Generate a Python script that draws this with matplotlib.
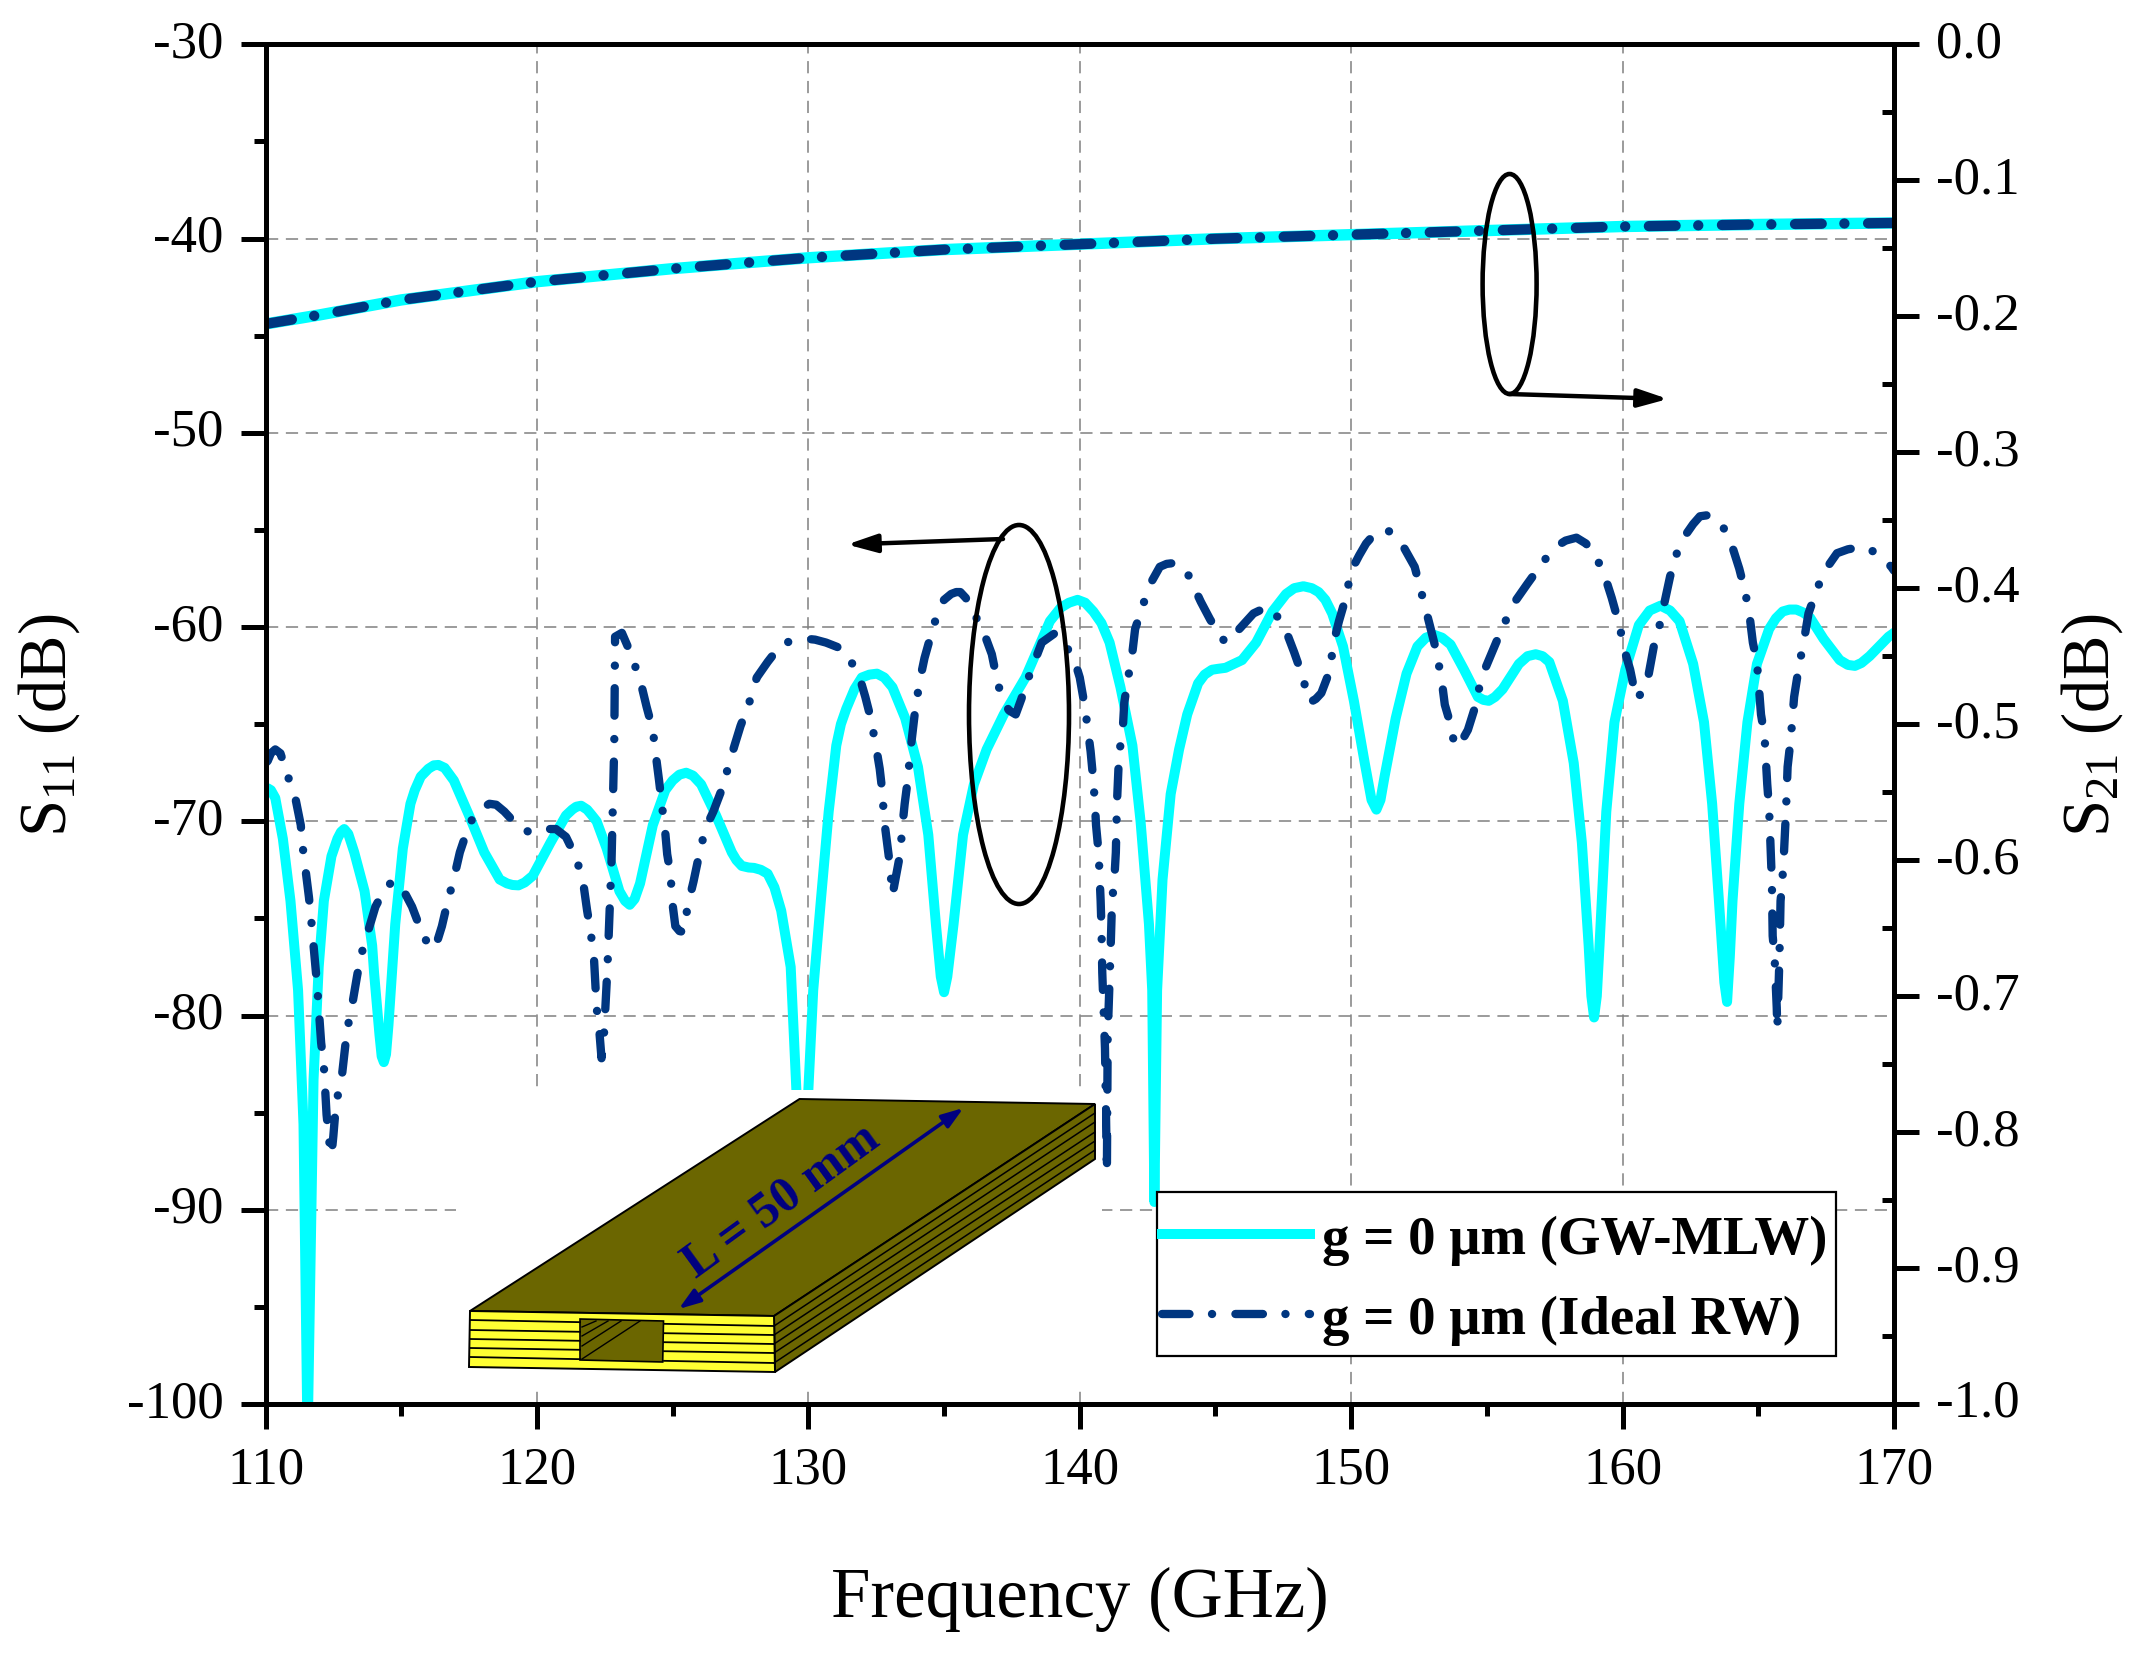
import numpy as np
import matplotlib
matplotlib.use("Agg")
import matplotlib.pyplot as plt
from matplotlib.patches import Ellipse, Polygon, Rectangle
from matplotlib.ticker import MultipleLocator
from matplotlib.transforms import ScaledTranslation

plt.rcParams['font.family'] = ['Liberation Serif', 'DejaVu Serif']
plt.rcParams['mathtext.fontset'] = 'custom'
plt.rcParams['mathtext.rm'] = 'Liberation Serif'
plt.rcParams['mathtext.default'] = 'rm'

W, H = 2141, 1665

# S11, GW-MLW
freq_gw = [110.0, 110.08, 110.36, 110.64, 110.92, 111.2, 111.4, 111.55, 111.77, 111.96, 112.15, 112.43, 112.9,
           113.27, 113.65, 113.93, 114.2, 114.36, 114.53, 114.78, 115.06, 115.34, 115.72, 116.37, 116.94, 117.5,
           118.06, 118.63, 119.32, 119.85, 120.5, 121.07, 121.63, 122.2, 122.57, 123.04, 123.42, 123.8, 124.27,
           124.73, 125.5, 126.05, 126.6, 127.18, 127.55, 128.0, 128.5, 129.0, 129.35, 129.56, 129.78, 130.0,
           130.18, 130.46, 130.75, 131.03, 131.4, 131.97, 132.53, 133.1, 133.57, 134.04, 134.42, 134.7, 135.0,
           135.35, 135.7, 136.1, 136.57, 137.2, 138.0, 138.9, 139.3, 139.92, 140.5, 141.1, 141.5, 141.94, 142.24,
           142.55, 142.67, 142.75, 142.85, 143.05, 143.35, 143.66, 143.96, 144.36, 144.87, 145.37, 145.98, 146.5,
           147.1, 147.6, 148.24, 148.8, 149.3, 149.7, 150.1, 150.5, 150.93, 151.23, 151.64, 152.04, 152.44, 153.05,
           153.66, 154.16, 154.67, 155.07, 155.58, 156.18, 156.8, 157.3, 157.8, 158.2, 158.5, 158.75, 158.95,
           159.15, 159.4, 159.7, 160.1, 160.6, 161.4, 162.1, 162.6, 163.0, 163.3, 163.55, 163.85, 164.05, 164.3,
           164.6, 164.95, 165.4, 165.9, 166.4, 166.9, 167.4, 168.0, 168.56, 169.1, 169.8, 170.0]
s11_gw = [-68.4, -68.3, -68.8, -70.9, -74.1, -78.7, -85.6, -102.0, -83.3, -77.5, -74.1, -71.8, -70.4,
          -71.6, -73.6, -76.4, -81.0, -82.4, -80.5, -75.3, -71.4, -69.1, -67.7, -67.1, -67.9, -69.7,
          -71.6, -73.0, -73.3, -72.8, -71.1, -69.7, -69.2, -70.0, -71.4, -73.6, -74.3, -73.2, -70.2,
          -68.4, -67.5, -68.1, -69.7, -71.6, -72.3, -72.4, -72.7, -74.6, -77.5, -83.85, -88.0, -83.85,
          -78.7, -74.1, -69.5, -66.1, -64.2, -62.6, -62.4, -63.1, -64.7, -67.2, -70.7, -75.3, -78.8,
          -75.3, -70.7, -68.1, -66.3, -64.5, -62.6, -59.7, -59.0, -58.6, -59.2, -60.8, -63.1, -66.1, -70.0,
          -75.3, -78.7, -89.6, -78.7, -73.0, -68.6, -66.3, -64.5, -62.9, -62.2, -62.1, -61.7, -60.8,
          -59.2, -58.3, -57.9, -58.2, -59.3, -61.0, -63.8, -67.0, -69.4, -67.7, -64.7, -62.4, -61.0, -60.4,
          -60.9, -62.2, -63.6, -63.8, -63.2, -61.9, -61.4, -61.8, -63.8, -67.0, -71.1, -76.4, -80.1,
          -76.4, -69.5, -64.9, -62.2, -59.9, -58.9, -59.7, -61.9, -64.9, -69.1, -74.1, -79.3, -74.1, -69.1,
          -64.9, -61.9, -60.1, -59.2, -59.1, -59.5, -60.6, -61.7, -62.0, -61.5, -60.5, -60.3]
# more readings around the rounded peaks and dips
freq_gw_more = [110.2, 112.65, 112.78, 113.05, 114.0, 114.28, 114.44, 115.5, 116.0, 116.2, 116.6, 118.9, 119.1, 119.55,
                121.3, 121.45, 121.85, 122.0, 123.25, 123.6, 125.0, 125.25, 125.75, 127.35, 127.8, 128.25, 128.75,
                131.2, 131.7, 132.25, 132.8, 134.88, 135.12, 139.6, 140.2, 140.8, 144.6, 145.1, 147.9, 148.55, 149.05,
                150.75, 151.08, 152.75, 153.35, 154.87, 155.3, 156.5, 157.05, 158.85, 159.05, 161.0, 161.75, 163.75,
                163.95, 165.65, 166.15, 166.65, 168.3, 168.8]
s11_gw_more = [-68.4, -70.9, -70.55, -70.65, -77.8, -82.1, -82.0, -68.4, -67.3, -67.12, -67.25, -73.2, -73.28, -73.15,
               -69.4, -69.25, -69.4, -69.65, -74.1, -74.0, -67.9, -67.6, -67.65, -72.0, -72.38, -72.5, -73.4,
               -65.0, -63.2, -62.45, -62.6, -78.0, -78.0, -58.75, -58.75, -59.8, -62.45, -62.15, -58.0, -58.0, -58.6,
               -68.9, -68.9, -60.55, -60.55, -63.75, -63.6, -61.5, -61.5, -79.0, -79.0, -59.15, -59.15, -78.3,
               -77.0, -59.55, -59.1, -59.25, -61.95, -61.85]

# S11, ideal RW
freq_rw = [110.0, 110.08, 110.36, 110.78, 111.1, 111.3, 111.36, 111.6, 111.68, 111.77, 111.86, 111.92, 112.05,
           112.15, 112.25, 112.43, 112.6, 112.8, 113.0, 113.2, 113.37, 113.5, 113.75, 114.05, 114.35, 114.87,
           115.4, 115.7, 116.14, 116.5, 116.7, 116.93, 117.16, 117.4, 117.7, 118.25, 118.8, 119.2, 119.75, 120.3,
           120.7, 121.07, 121.45, 121.7, 121.85, 121.97, 122.1, 122.2, 122.3, 122.38, 122.47, 122.6, 122.75,
           122.85, 122.88, 123.13, 123.5, 123.85, 124.04, 124.27, 124.4, 124.5, 124.6, 124.73, 124.8, 124.92,
           125.0, 125.1, 125.39, 125.58, 125.77, 125.95, 126.2, 126.5, 126.8, 127.28, 127.5, 127.8, 128.1, 128.5,
           129.0, 129.9, 130.65, 131.2, 131.87, 132.1, 132.3, 132.5, 132.63, 132.72, 132.8, 132.9, 133.0, 133.1,
           133.38, 133.47, 133.55, 133.66, 133.76, 133.85, 133.95, 134.13, 134.28, 134.5, 134.8, 135.26, 135.6,
           136.0, 136.47, 136.76, 136.98, 137.2, 137.64, 137.98, 138.3, 138.6, 139.1, 139.76, 140.0, 140.2, 140.3,
           140.4, 140.5, 140.56, 140.6, 140.7, 140.73, 140.77, 140.8, 140.83, 140.93, 141.0, 141.03, 141.13,
           141.19, 141.27, 141.33, 141.37, 141.45, 141.58, 141.64, 141.76, 141.94, 142.04, 142.28, 142.55, 142.95,
           143.5, 143.96, 144.46, 144.8, 145.37, 145.88, 146.4, 147.0, 147.6, 147.9, 148.2, 148.46, 148.9, 149.2,
           149.37, 149.55, 149.8, 150.0, 150.3, 150.8, 151.33, 151.94, 152.34, 152.75, 152.95, 153.15, 153.35,
           153.45, 153.66, 153.9, 154.3, 154.57, 154.8, 155.07, 155.37, 155.78, 156.08, 156.48, 157.1, 157.5,
           158.3, 159.0, 159.35, 159.6, 159.9, 160.05, 160.28, 160.5, 160.9, 161.15, 161.35, 161.55, 161.75, 162.0,
           162.3, 162.85, 163.4, 163.96, 164.3, 164.5, 164.66, 164.8, 164.95, 165.1, 165.23, 165.33, 165.4, 165.47,
           165.5, 165.53, 165.6, 165.68, 165.7, 165.78, 165.82, 165.88, 165.94, 166.02, 166.08, 166.2, 166.32,
           166.5, 166.67, 166.85, 167.1, 167.4, 167.9, 168.7, 169.4, 169.9, 170.0]
s11_rw = [-67.0, -66.9, -66.3, -67.5, -68.8, -70.2, -71.2, -73.9, -75.0, -76.4, -77.8, -78.8, -81.4,
          -82.6, -85.1, -87.2, -84.5, -83.3, -80.8, -79.4, -78.0, -77.0, -75.8, -74.4, -73.6, -73.1,
          -74.4, -75.5, -76.6, -75.4, -74.2, -73.0, -71.6, -70.6, -69.6, -69.1, -69.5, -70.1, -70.6, -70.4,
          -70.4, -70.8, -71.9, -73.1, -74.6, -75.6, -77.0, -79.6, -80.8, -82.2, -81.0, -77.5, -72.0,
          -66.0, -60.5, -60.3, -61.5, -63.0, -64.1, -65.3, -66.8, -67.9, -69.1, -70.6, -71.7, -72.7,
          -74.3, -75.4, -75.7, -74.2, -73.1, -71.9, -70.4, -69.5, -68.4, -66.1, -65.1, -64.0, -62.6, -61.8,
          -60.9, -60.6, -60.8, -61.1, -62.5, -63.6, -64.7, -66.2, -67.3, -68.4, -70.0, -71.1, -72.2, -73.8,
          -71.7, -70.2, -69.1, -67.9, -66.4, -65.3, -64.1, -62.6, -61.6, -60.5, -59.1, -58.3, -58.2,
          -59.0, -60.3, -61.4, -62.9, -63.9, -64.5, -63.1, -61.9, -60.8, -60.3, -61.5, -62.6, -64.2, -65.3,
          -66.4, -67.9, -69.1, -70.2, -71.7, -72.8, -74.1, -75.5, -77.8, -81.7, -88.1, -81.0, -76.9,
          -74.1, -73.1, -71.6, -69.1, -66.5, -65.4, -63.9, -62.8, -61.3, -60.1, -59.1, -57.9, -56.9,
          -56.7, -57.2, -58.7, -59.6, -60.8, -60.1, -59.3, -59.0, -60.2, -61.3, -62.5, -63.9, -63.4, -62.3,
          -60.7, -59.7, -58.5, -57.1, -56.3, -55.3, -55.0, -55.9, -56.9, -59.1, -60.2, -61.3, -62.9,
          -64.0, -65.0, -66.2, -65.3, -64.1, -62.6, -61.7, -60.7, -59.4, -58.6, -57.8, -56.6, -55.9,
          -55.4, -56.3, -57.4, -58.5, -60.0, -61.1, -62.2, -63.7, -62.9, -61.0, -60.0, -58.7, -57.4, -56.2,
          -55.3, -54.3, -54.4, -55.5, -57.0, -58.1, -59.2, -60.8, -61.8, -64.5, -65.6, -68.1, -69.4, -72.0,
          -73.1, -75.9, -77.0, -79.6, -80.7, -77.0, -74.1, -73.2, -71.8, -69.5, -67.2, -65.7, -63.6,
          -62.0, -60.8, -59.3, -58.3, -57.2, -56.2, -55.9, -56.2, -56.9, -57.1]
freq_rw_more = [110.2, 110.55, 112.35, 112.5, 114.6, 115.1, 115.9, 116.3, 118.0, 118.5, 119.0, 125.25, 129.4, 130.25,
                131.5, 135.0, 135.45, 135.8, 137.4, 137.85, 143.2, 143.75, 145.1, 145.6, 146.7, 147.3, 148.7, 150.55,
                151.05, 151.6, 153.75, 154.1, 157.9, 158.65, 160.7, 162.6, 163.1, 163.7, 168.3, 169.05]
s11_rw_more = [-66.5, -66.5, -86.5, -86.2, -73.2, -73.6, -76.1, -76.3, -69.3, -69.15, -69.8, -75.65, -60.7, -60.65,
               -61.6, -58.6, -58.2, -58.5, -64.3, -63.7, -56.75, -56.9, -60.3, -60.65, -59.1, -59.5, -63.7, -55.7,
               -55.1, -55.3, -65.7, -65.8, -55.55, -55.7, -63.4, -54.7, -54.25, -54.85, -56.0, -56.0]

# S21, both cases sit on top of each other
freq_s21 = [110, 112, 115, 120, 125, 130, 135, 140, 145, 150, 155, 160, 165, 170]
s21_gw = [-0.2057, -0.1990, -0.1880, -0.1746, -0.1650, -0.1570, -0.1510, -0.1470, -0.1430, -0.1400, -0.1370,
          -0.1340, -0.1325, -0.1314]
s21_rw = [-0.2057, -0.1990, -0.1880, -0.1746, -0.1650, -0.1570, -0.1510, -0.1470, -0.1430, -0.1400, -0.1370,
          -0.1340, -0.1325, -0.1314]

x_ticks = [110, 120, 130, 140, 150, 160, 170]
left_ticks = [-100, -90, -80, -70, -60, -50, -40, -30]
right_ticks = [-1.0, -0.9, -0.8, -0.7, -0.6, -0.5, -0.4, -0.3, -0.2, -0.1, 0.0]
label_gw = "g = 0 μm (GW-MLW)"
label_rw = "g = 0 μm (Ideal RW)"

CYAN = '#00FFFF'
NAVY = '#003680'
OLIVE = '#6B6600'
YELLOW = '#FFFF33'
DASH_DOT = (0, (3.3, 2.7, 0.01, 2.8))
DASH_DOT_WIDE = (0, (2.6, 2.2, 0.01, 2.3))
TICK_W = 3.6


def px_to_pt(p):
    return p * 72.0 / 100.0


def merged(f, v, f2, v2):
    # put the extra readings in frequency order
    f_all = np.array(f + f2)
    v_all = np.array(v + v2)
    order = np.argsort(f_all, kind='stable')
    return f_all[order], v_all[order]


fig = plt.figure(figsize=(W / 100, H / 100), dpi=100)
ax = fig.add_axes([265.5 / W, 1 - 1405 / H, (1894 - 265.5) / W, (1405 - 45.3) / H])
ax2 = ax.twinx()

ax.set_xlim(110, 170)
ax.set_ylim(-100, -30)
ax2.set_ylim(-1.0, 0.0)

ax.grid(True, which='major', color='#808080', lw=1.1, ls=(0, (8, 5)))
ax.set_axisbelow(True)

f_gw, v_gw = merged(freq_gw, s11_gw, freq_gw_more, s11_gw_more)
f_rw, v_rw = merged(freq_rw, s11_rw, freq_rw_more, s11_rw_more)
line_gw, = ax.plot(f_gw, v_gw, color=CYAN, lw=7.2, solid_joinstyle='round', label=label_gw)
line_rw, = ax.plot(f_rw, v_rw, color=NAVY, lw=6, ls=DASH_DOT, dash_capstyle='round',
                   dash_joinstyle='round', label=label_rw)
ax2.plot(freq_s21, s21_gw, color=CYAN, lw=8.2)
ax2.plot(freq_s21, s21_rw, color=NAVY, lw=7.4, ls=DASH_DOT_WIDE, dash_capstyle='round')

ax.set_xticks(x_ticks)
ax.set_xticklabels([str(v) for v in x_ticks])
ax.set_yticks(left_ticks)
ax.set_yticklabels([str(v) for v in left_ticks])
ax2.set_yticks(right_ticks)
ax2.set_yticklabels(["%.1f" % v for v in right_ticks])
ax.xaxis.set_minor_locator(MultipleLocator(5))
ax.yaxis.set_minor_locator(MultipleLocator(5))
ax2.yaxis.set_minor_locator(MultipleLocator(0.05))

ax.tick_params(axis='both', which='major', direction='out', length=px_to_pt(25), width=TICK_W,
               labelsize=38, pad=px_to_pt(17))
ax.tick_params(axis='both', which='minor', direction='out', length=px_to_pt(12), width=TICK_W)
ax2.tick_params(axis='y', which='major', direction='out', length=px_to_pt(25), width=TICK_W,
                labelsize=38, pad=px_to_pt(17))
ax2.tick_params(axis='y', which='minor', direction='in', length=px_to_pt(12), width=TICK_W)

# the y labels sit a little above their ticks in the original
lift = ScaledTranslation(0, 6.5 / 100, fig.dpi_scale_trans)
for lab in ax.get_yticklabels() + ax2.get_yticklabels():
    lab.set_transform(lab.get_transform() + lift)

for a in (ax, ax2):
    for s in a.spines.values():
        s.set_linewidth(TICK_W)

ax.set_xlabel("Frequency (GHz)", fontsize=51, va='baseline')
ax.xaxis.set_label_coords(1080 / W, 1 - 1617 / H, transform=fig.transFigure)
ax.set_ylabel(r"S$_{11}$ (dB)", fontsize=48)
ax.yaxis.set_label_coords(82 / W, 1 - 725 / H, transform=fig.transFigure)
ax2.set_ylabel(r"S$_{21}$ (dB)", fontsize=48, rotation=90, va='bottom')
ax2.yaxis.set_label_coords(2125 / W, 1 - 725 / H, transform=fig.transFigure)

# legend box drawn apart because its padding differs per side
ax2.add_patch(Rectangle((1157.4 / W, 1 - 1357 / H), (1835.6 - 1157.4) / W, 164 / H, transform=fig.transFigure,
                        fc='white', ec='black', lw=1.6, zorder=4))
leg = ax2.legend(handles=[line_gw, line_rw], loc='upper left', bbox_to_anchor=(1161.6 / W, 1 - 1216 / H),
                 bbox_transform=fig.transFigure, borderaxespad=0, frameon=False,
                 handlelength=2.72, handletextpad=0.22, borderpad=0, labelspacing=0.54,
                 prop={'size': 39.4, 'weight': 'bold'})
leg.set_zorder(5)

# everything below is drawn in picture pixels: ellipses, arrows and the waveguide inset
over = fig.add_axes([0, 0, 1, 1])
over.set_xlim(0, W)
over.set_ylim(H, 0)
over.axis('off')
over.patch.set_alpha(0)

over.add_patch(Ellipse((1509.6, 285), 54, 220, fill=False, ec='black', lw=3.3))
over.add_patch(Ellipse((1019, 715.5), 100, 379, fill=False, ec='black', lw=3.3))
over.annotate("", xy=(1668, 400), xytext=(1509, 395),
              arrowprops=dict(arrowstyle='-|>,head_length=1.8,head_width=0.55', color='black', lw=3.2,
                              shrinkA=0, shrinkB=0))
over.annotate("", xy=(847, 545.5), xytext=(1003, 540),
              arrowprops=dict(arrowstyle='-|>,head_length=1.8,head_width=0.55', color='black', lw=3.2,
                              shrinkA=0, shrinkB=0))

over.add_patch(Rectangle((456, 1091), 646, 295, fc='white', ec='none'))
over.add_patch(Polygon([(799.5, 1100), (1095, 1105), (774, 1317), (470, 1312)], fc=OLIVE, ec='black', lw=1.4))
over.add_patch(Polygon([(1095, 1105), (1095, 1160), (775, 1373), (774, 1317)], fc=OLIVE, ec='black', lw=1.4))
over.add_patch(Polygon([(470, 1312), (774, 1317), (775, 1373), (469, 1368)], fc=YELLOW, ec='black', lw=1.4))

# stacked layers, front and side
front_left = [1321, 1331, 1340, 1349, 1358]
front_right = [1327, 1336, 1345, 1354, 1364]
side_end = [1114, 1123, 1133, 1142, 1151]
for yl, yr, ye in zip(front_left, front_right, side_end):
    over.plot([470, 580], [yl, yl + (yr - yl) * 0.36], color='black', lw=1.3)
    over.plot([664, 774], [yl + (yr - yl) * 0.64, yr], color='black', lw=1.3)
    over.plot([774, 1095], [yr, ye], color='black', lw=1.1)

over.add_patch(Polygon([(580, 1320), (663.5, 1322), (662.7, 1363), (580, 1361)], fc=OLIVE, ec='black', lw=1.2))
hole_x_end = [596, 608, 621, 640]
hole_y_start = [1328, 1337, 1347, 1360]
for xe, ys in zip(hole_x_end, hole_y_start):
    over.plot([582, xe], [ys, 1322], color='black', lw=1.0)

over.annotate("", xy=(678.7, 1310), xytext=(963.4, 1109),
              arrowprops=dict(arrowstyle='<|-|>,head_length=1.3,head_width=0.45', color='#000080', lw=2.6,
                              shrinkA=0, shrinkB=0))
over.text(782, 1201, "L = 50 mm", color='#000080', fontsize=36, fontweight='bold', rotation=36,
          ha='center', va='center', rotation_mode='anchor')

fig.savefig("out.png", dpi=100)
